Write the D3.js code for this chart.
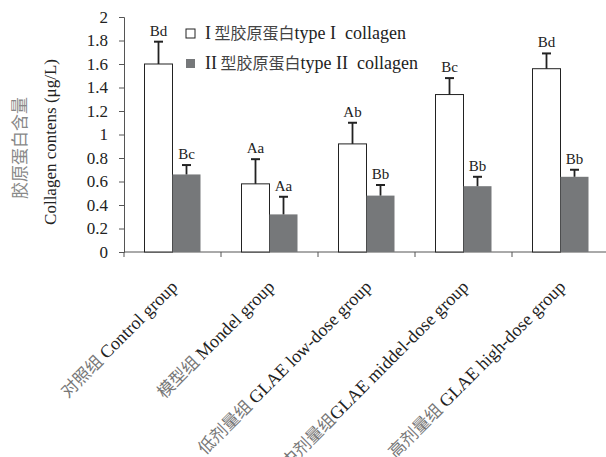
<!DOCTYPE html>
<html>
<head>
<meta charset="utf-8">
<script src="https://cdn.jsdelivr.net/npm/d3@7"></script>
<style>
  body { margin: 0; background: #fff; }
  text { font-family: "Liberation Serif", "Noto Sans CJK SC", serif; }
</style>
</head>
<body>
<div id="chart"></div>
<script>
var groupsCn = ["对照组 ", "模型组 ", "低剂量组 ", "中剂量组", "高剂量组 "];
var groupsEn = ["Control group", "Mondel group", "GLAE low-dose group", "GLAE middel-dose group", "GLAE high-dose group"];
var type1 = [1.60, 0.58, 0.92, 1.34, 1.56];
var type1Err = [0.19, 0.21, 0.18, 0.14, 0.13];
var type1Sig = ["Bd", "Aa", "Ab", "Bc", "Bd"];
var type2 = [0.66, 0.32, 0.48, 0.56, 0.64];
var type2Err = [0.08, 0.15, 0.09, 0.08, 0.06];
var type2Sig = ["Bc", "Aa", "Bb", "Bb", "Bb"];
var yTicks = [0, 0.2, 0.4, 0.6, 0.8, 1, 1.2, 1.4, 1.6, 1.8, 2];

var width = 606, height = 457;
var x0 = 124, x1 = 609, y0 = 252, y1 = 17;

var svg = d3.select("#chart").append("svg")
  .attr("width", width).attr("height", height);

var xScale = d3.scaleBand().domain(d3.range(5)).range([x0, x1]);
var yScale = d3.scaleLinear().domain([0, 2]).range([y0, y1]);
var barW = 28;

// y axis
var yAxis = d3.axisLeft(yScale).tickValues(yTicks).tickSize(5).tickPadding(11)
  .tickFormat(d => d3.format("~g")(d));
var gy = svg.append("g").attr("transform", `translate(${x0},0)`).call(yAxis);
gy.select(".domain").attr("stroke", "#555");
gy.selectAll(".tick line").attr("stroke", "#555");
gy.selectAll(".tick text").attr("font-size", 17).attr("fill", "#222")
  .style("font-family", "Liberation Serif");

// x axis line and ticks at boundaries
svg.append("line").attr("x1", x0).attr("x2", width).attr("y1", y0).attr("y2", y0).attr("stroke", "#555");
svg.selectAll(".xtick").data(d3.range(6)).enter().append("line")
  .attr("x1", d => x0 + d * xScale.step()).attr("x2", d => x0 + d * xScale.step())
  .attr("y1", y0).attr("y2", y0 + 5).attr("stroke", "#555");

var groups = svg.selectAll(".grp").data(d3.range(5)).enter().append("g");

function cx(i) { return xScale(i) + xScale.bandwidth() / 2; }

// type I bars
groups.append("rect")
  .attr("x", i => cx(i) - barW).attr("y", i => yScale(type1[i]))
  .attr("width", barW).attr("height", i => y0 - yScale(type1[i]))
  .attr("fill", "#fff").attr("stroke", "#222").attr("stroke-width", 1);
// type II bars
groups.append("rect")
  .attr("x", i => cx(i)).attr("y", i => yScale(type2[i]))
  .attr("width", barW).attr("height", i => y0 - yScale(type2[i]))
  .attr("fill", "#76787a");

function errBar(vals, errs, off) {
  groups.append("line")
    .attr("x1", i => cx(i) + off).attr("x2", i => cx(i) + off)
    .attr("y1", i => yScale(vals[i])).attr("y2", i => yScale(vals[i] + errs[i]))
    .attr("stroke", "#222").attr("stroke-width", 1.8);
  groups.append("line")
    .attr("x1", i => cx(i) + off - 4.5).attr("x2", i => cx(i) + off + 4.5)
    .attr("y1", i => yScale(vals[i] + errs[i])).attr("y2", i => yScale(vals[i] + errs[i]))
    .attr("stroke", "#222").attr("stroke-width", 2);
}
errBar(type1, type1Err, -barW / 2);
errBar(type2, type2Err, barW / 2);

function sigLabel(vals, errs, sig, off) {
  groups.append("text")
    .attr("x", i => cx(i) + off).attr("y", i => yScale(vals[i] + errs[i]) - 6)
    .attr("text-anchor", "middle").attr("font-size", 15).attr("fill", "#222")
    .text(i => sig[i]);
}
sigLabel(type1, type1Err, type1Sig, -barW / 2);
sigLabel(type2, type2Err, type2Sig, barW / 2);

// x labels (rotated; the reference crops the lower ones at the bottom edge)
groups.append("text")
  .attr("transform", i => `translate(${cx(i) + 6},${y0 + 36}) rotate(-45)`)
  .attr("text-anchor", "end").attr("font-size", 18).attr("fill", "#222")
  .each(function(i) {
    var t = d3.select(this);
    t.append("tspan").attr("fill", "#777").attr("font-size", 17)
      .style("font-family", "Noto Sans CJK SC").text(groupsCn[i]);
    t.append("tspan").text(groupsEn[i]);
  });

// y titles
svg.append("text")
  .attr("transform", "translate(56,142) rotate(-90)")
  .attr("text-anchor", "middle").attr("font-size", 17).attr("fill", "#222")
  .text("Collagen contens (μg/L)");
svg.append("text")
  .attr("transform", "translate(26,148) rotate(-90)")
  .attr("text-anchor", "middle").attr("font-size", 17).attr("fill", "#888")
  .style("font-family", "Noto Sans CJK SC")
  .text("胶原蛋白含量");

// legend
var legend = [
  {fill: "#fff", stroke: "#222", num: "I", cn: " 型胶原蛋白", en: "type I  collagen"},
  {fill: "#76787a", stroke: "none", num: "II", cn: " 型胶原蛋白", en: "type II  collagen"}
];
var lg = svg.selectAll(".lg").data(legend).enter().append("g")
  .attr("transform", (d, i) => `translate(186,${29 + i * 30})`);
lg.append("rect").attr("width", 9).attr("height", 9)
  .attr("fill", d => d.fill).attr("stroke", d => d.stroke);
lg.append("text").attr("x", 19).attr("y", 10).attr("font-size", 18).attr("fill", "#222")
  .style("white-space", "pre")
  .each(function(d) {
    var t = d3.select(this);
    t.append("tspan").text(d.num);
    t.append("tspan").style("font-family", "Noto Sans CJK SC").attr("font-size", 16).attr("fill", "#444").text(d.cn);
    t.append("tspan").text(d.en);
  });
</script>
</body>
</html>
